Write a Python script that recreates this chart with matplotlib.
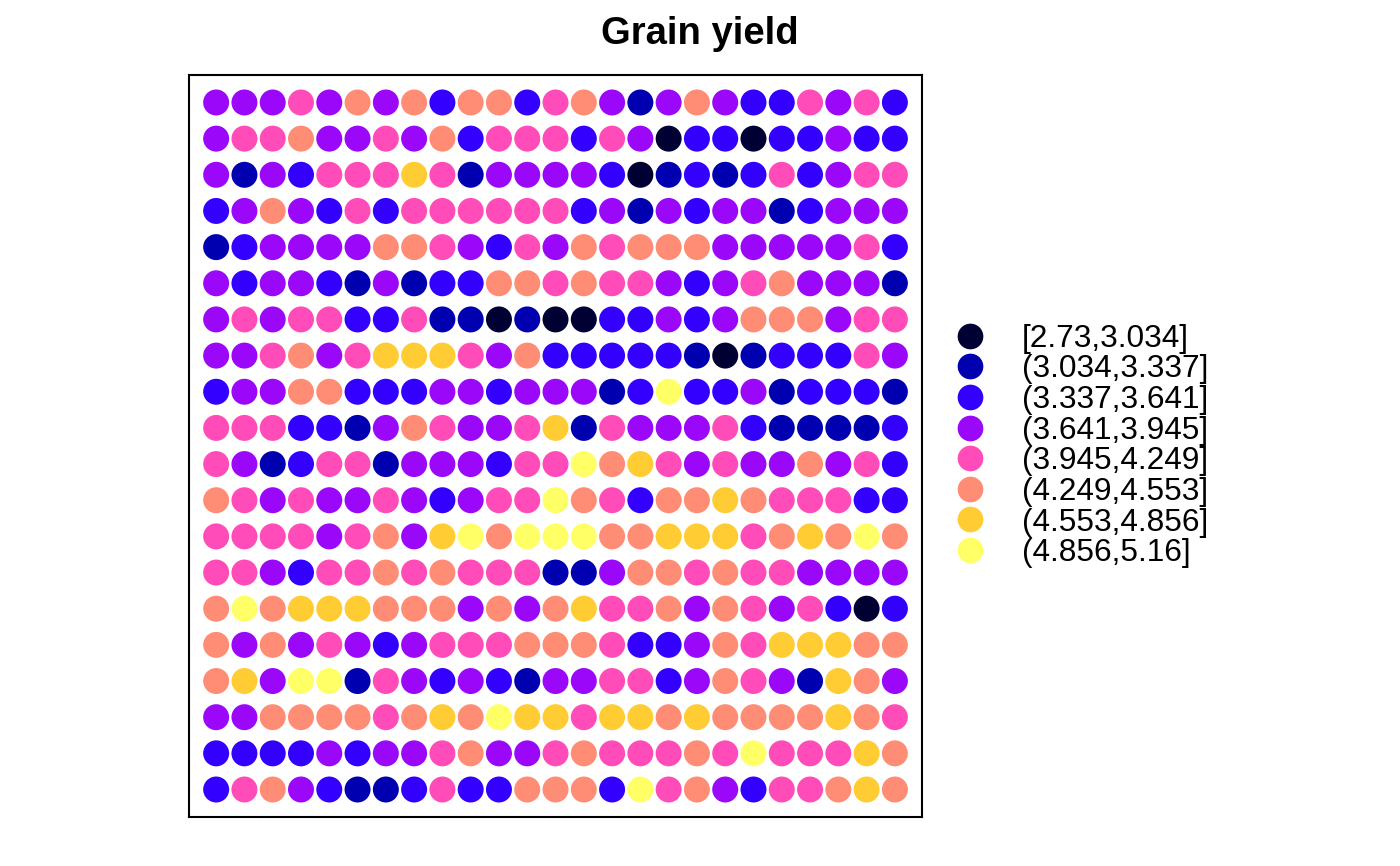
import numpy as np
import matplotlib.pyplot as plt
from matplotlib.lines import Line2D

plt.rcParams['font.family'] = ['Liberation Sans', 'DejaVu Sans']

# yield class of each plot, row 1 at the top, 25 columns per row
# 0..7 index into the legend bins below
row01 = [3,3,3,4,3,5,3,5,2,5,5,2,4,5,3,1,3,5,3,2,2,4,3,4,2]
row02 = [3,4,4,5,3,3,4,3,5,2,4,4,4,2,4,3,0,2,2,0,2,2,3,2,2]
row03 = [3,1,3,2,4,4,4,6,4,1,3,3,3,3,2,0,1,2,1,2,4,2,3,4,4]
row04 = [2,3,5,3,2,4,2,4,4,4,4,4,4,2,3,1,3,2,3,3,1,2,3,3,3]
row05 = [1,2,3,3,3,3,5,5,4,3,2,4,3,5,4,5,5,5,3,3,3,3,3,4,2]
row06 = [3,2,3,3,2,1,3,1,2,2,5,5,4,5,4,4,3,2,3,4,5,3,3,3,1]
row07 = [3,4,3,4,4,2,2,4,1,1,0,1,0,0,2,2,3,2,3,5,5,5,3,4,4]
row08 = [3,3,4,5,3,4,6,6,6,4,3,5,2,2,2,2,2,1,0,1,2,2,2,4,3]
row09 = [2,3,3,5,5,2,2,2,3,3,2,3,3,3,1,2,7,2,2,3,1,2,2,2,1]
row10 = [4,4,4,2,2,1,3,5,4,3,3,4,6,1,4,3,3,3,4,2,1,1,1,1,2]
row11 = [4,3,1,2,4,4,1,3,3,3,2,4,4,7,5,6,4,3,4,3,3,5,3,4,2]
row12 = [5,4,3,4,3,3,4,3,2,3,4,4,7,5,4,2,5,5,6,5,4,4,4,2,2]
row13 = [4,4,4,4,3,4,5,3,6,7,5,7,7,7,5,5,6,6,6,4,5,6,5,7,5]
row14 = [4,4,3,2,4,4,5,4,5,4,4,4,1,1,3,5,5,4,5,4,4,3,3,3,3]
row15 = [5,7,5,6,6,6,5,5,5,3,5,3,5,6,4,4,5,3,5,4,3,4,2,0,2]
row16 = [5,3,5,3,4,3,2,3,4,4,4,5,5,5,4,2,2,3,5,4,6,6,6,5,5]
row17 = [5,6,3,7,7,1,4,3,2,3,2,1,3,3,4,4,2,3,5,4,3,1,6,5,3]
row18 = [3,3,5,5,5,5,4,5,6,5,7,6,6,4,6,6,5,6,5,5,5,5,6,5,4]
row19 = [2,2,2,2,3,2,3,3,4,5,3,3,4,5,4,4,4,5,4,7,4,4,4,6,5]
row20 = [2,4,5,3,2,1,1,2,4,2,2,5,5,5,2,7,4,5,3,2,4,4,5,6,5]

bins = ['[2.73,3.034]', '(3.034,3.337]', '(3.337,3.641]', '(3.641,3.945]',
        '(3.945,4.249]', '(4.249,4.553]', '(4.553,4.856]', '(4.856,5.16]']
colors = ['#000033', '#0000B0', '#3300FF', '#9A07F9',
          '#FF4CB8', '#FF8C74', '#FFCC33', '#FFFF66']

grid = np.array([row01, row02, row03, row04, row05, row06, row07, row08, row09, row10,
                 row11, row12, row13, row14, row15, row16, row17, row18, row19, row20])
nrow, ncol = grid.shape
rr, cc = np.mgrid[1:nrow + 1, 1:ncol + 1]

fig = plt.figure(figsize=(14, 8.66), dpi=100)
ax = fig.add_axes([0.135, 0.0566, 0.5236, 0.8568])

ax.scatter(cc.ravel(), rr.ravel(), s=350, c=np.array(colors)[grid.ravel()],
           edgecolors='none')

ax.set_xlim(1 - 0.04 * (ncol - 1), ncol + 0.04 * (ncol - 1))
ax.set_ylim(nrow + 0.04 * (nrow - 1), 1 - 0.04 * (nrow - 1))
ax.set_xticks([])
ax.set_yticks([])
for sp in ax.spines.values():
    sp.set_linewidth(1.5)

fig.text(0.5, 1 - 44 / 866, 'Grain yield', ha='center', va='baseline',
         fontsize=27.5, fontweight='bold')

handles = [Line2D([], [], ls='', marker='o', markersize=18.5, color=c,
                  markeredgewidth=0) for c in colors]
fig.legend(handles, bins, loc='center left', bbox_to_anchor=(954.5 / 1400, 1 - 446 / 866),
           frameon=False, fontsize=22.8, borderpad=0, borderaxespad=0,
           handlelength=1.0, handletextpad=1.12, labelspacing=0.02)

fig.savefig('out.png', dpi=100)
